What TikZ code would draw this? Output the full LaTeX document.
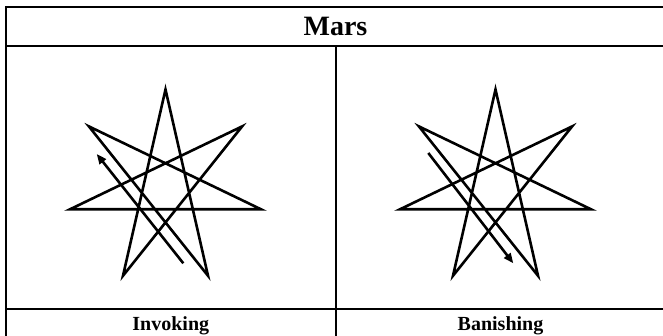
\documentclass[tikz,border=0pt]{standalone}
\usepackage{fontspec}
\setmainfont{Liberation Serif}
\usetikzlibrary{arrows.meta,calc}
\tikzset{
  grid/.style={line width=2pt},
  starline/.style={line width=2.6pt, line join=miter},
  dirarrow/.style={line width=2.6pt, -{Triangle[length=10pt,width=8pt]}},
  title/.style={font=\bfseries\fontsize{28}{30}\selectfont, inner sep=0pt},
  caption/.style={font=\bfseries\fontsize{20}{22}\selectfont, inner sep=0pt}
}
\begin{document}
\begin{tikzpicture}[x=1pt,y=1pt]
\useasboundingbox (0,0) rectangle (663,336);
\clip (0,0) rectangle (663,336);
\fill[white] (0,0) rectangle (663,336);
% table
\draw[grid] (6,-5) -- (6,328.7) -- (670,328.7);
\draw[grid] (6,290.3) -- (670,290.3);
\draw[grid] (6,27) -- (670,27);
\draw[grid] (335.7,290.3) -- (335.7,-5);
\node[title] (mars) at (335.5,309.5) {Mars};
\node[caption, anchor=base] (inv) at (170.8,5) {Invoking};
\node[caption, anchor=base] (ban) at (500.5,5) {Banishing};
% stars
\foreach \s/\cx in {L/165.5, R/495.5}{
  \coordinate (\s c) at (\cx,148.5);
  \foreach \i in {0,...,6}{
    \coordinate (\s\i) at ($(\s c)+({90-\i*360/7}:98)$);
  }
  \draw[starline] (\s0) -- (\s3) -- (\s6) -- (\s2) -- (\s5) -- (\s1) -- (\s4) -- cycle;
}
\coordinate (La) at ($(Lc)+(17.8,-75.8)$);
\coordinate (Lb) at ($(Lc)+(-68.8,33.5)$);
\coordinate (Ra) at ($(Rc)+(-67.2,34.5)$);
\coordinate (Rb) at ($(Rc)+(17.8,-75.8)$);
\draw[dirarrow] (La) -- (Lb);
\draw[dirarrow] (Ra) -- (Rb);
\end{tikzpicture}
\end{document}
